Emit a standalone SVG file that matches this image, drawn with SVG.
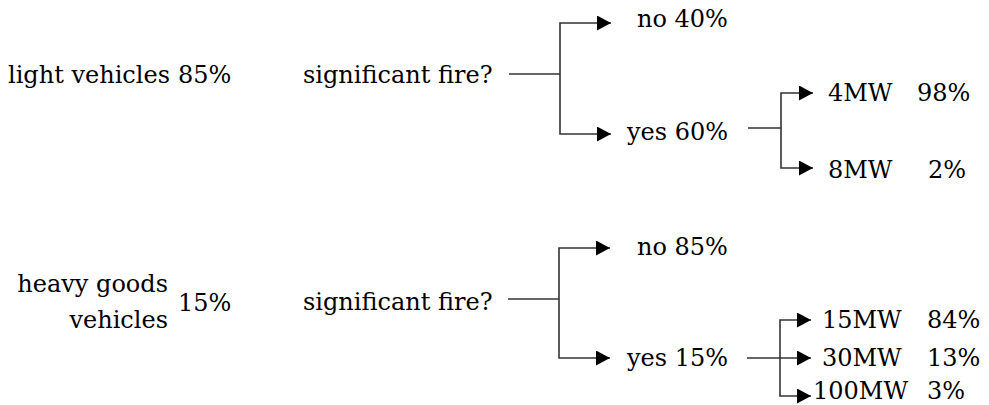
<svg xmlns="http://www.w3.org/2000/svg" width="989" height="405" viewBox="0 0 989 405">
<style>
  text { font-family: "DejaVu Serif", "Liberation Serif", serif; font-size: 24px; fill: #000; }
  .conn { fill: none; stroke: #333; stroke-width: 1.6; }
</style>
<defs>
  <marker id="arr" markerUnits="userSpaceOnUse" markerWidth="15" markerHeight="16" refX="14" refY="7.5" orient="auto">
    <path d="M0,0 L14,7.5 L0,15 z" fill="#000"/>
  </marker>
</defs>
<rect width="989" height="405" fill="#fff"/>
<g id="connectors">
  <path class="conn" d="M509,74 H560"/>
  <path class="conn" d="M560,74 V23 H611" marker-end="url(#arr)"/>
  <path class="conn" d="M560,74 V134 H611" marker-end="url(#arr)"/>
  <path class="conn" d="M748,128 H781"/>
  <path class="conn" d="M781,128 V93 H813" marker-end="url(#arr)"/>
  <path class="conn" d="M781,128 V168 H813" marker-end="url(#arr)"/>
  <path class="conn" d="M508,299 H559"/>
  <path class="conn" d="M559,299 V248 H610" marker-end="url(#arr)"/>
  <path class="conn" d="M559,299 V358 H610" marker-end="url(#arr)"/>
  <path class="conn" d="M747,358 H811" marker-end="url(#arr)"/>
  <path class="conn" d="M780,358 V320 H811" marker-end="url(#arr)"/>
  <path class="conn" d="M780,358 V396 H811" marker-end="url(#arr)"/>
</g>
<g id="light-vehicles"><text x="8" y="83">light vehicles</text><text x="178" y="83">85%</text></g>
<g id="fire-q1"><text x="303" y="83">significant fire?</text></g>
<g id="no40"><text x="637" y="27">no 40%</text></g>
<g id="yes60"><text x="627" y="140">yes 60%</text></g>
<g id="mw4"><text x="828" y="101">4MW</text><text x="917" y="101">98%</text></g>
<g id="mw8"><text x="828" y="178">8MW</text><text x="928" y="178">2%</text></g>
<g id="hgv"><text x="168" y="292" text-anchor="end">heavy goods</text><text x="168" y="328" text-anchor="end">vehicles</text><text x="178" y="311">15%</text></g>
<g id="fire-q2"><text x="303" y="310">significant fire?</text></g>
<g id="no85"><text x="637" y="255">no 85%</text></g>
<g id="yes15"><text x="627" y="366">yes 15%</text></g>
<g id="mw15"><text x="822" y="328">15MW</text><text x="927" y="328">84%</text></g>
<g id="mw30"><text x="822" y="366">30MW</text><text x="927" y="366">13%</text></g>
<g id="mw100"><text x="813" y="399">100MW</text><text x="927" y="399">3%</text></g>
</svg>
